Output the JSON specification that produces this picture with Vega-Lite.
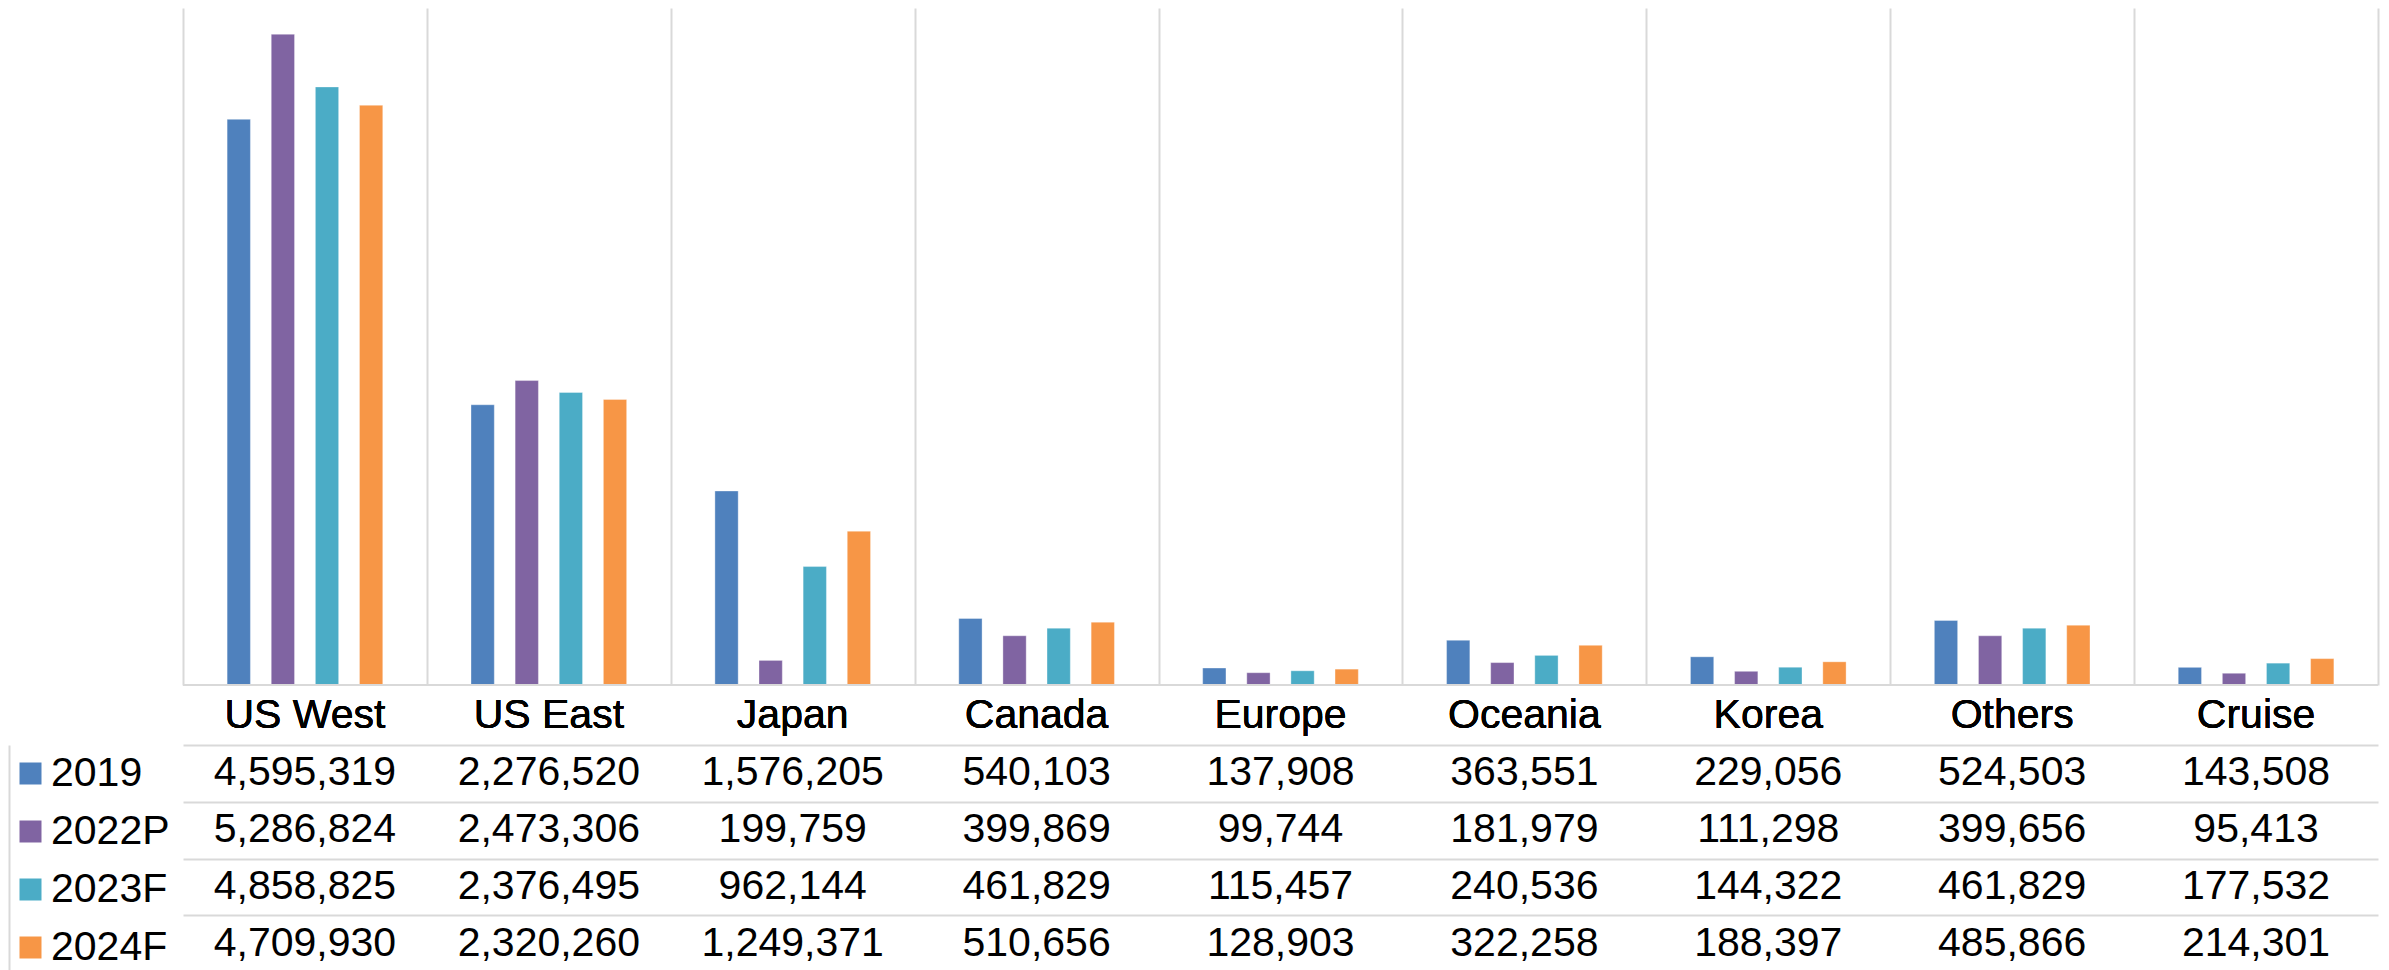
{
  "$schema": "https://vega.github.io/schema/vega-lite/v6.json",
  "width": 2369,
  "height": 962,
  "autosize": {"type": "none"},
  "padding": {"left": 9, "top": 8, "right": 11, "bottom": 0},
  "background": "white",
  "config": {"view": {"stroke": null}, "font": "Liberation Sans"},
  "data": {
    "values": [
      {"region": "US West", "year": "2019", "value": 4595319},
      {"region": "US East", "year": "2019", "value": 2276520},
      {"region": "Japan", "year": "2019", "value": 1576205},
      {"region": "Canada", "year": "2019", "value": 540103},
      {"region": "Europe", "year": "2019", "value": 137908},
      {"region": "Oceania", "year": "2019", "value": 363551},
      {"region": "Korea", "year": "2019", "value": 229056},
      {"region": "Others", "year": "2019", "value": 524503},
      {"region": "Cruise", "year": "2019", "value": 143508},
      {"region": "US West", "year": "2022P", "value": 5286824},
      {"region": "US East", "year": "2022P", "value": 2473306},
      {"region": "Japan", "year": "2022P", "value": 199759},
      {"region": "Canada", "year": "2022P", "value": 399869},
      {"region": "Europe", "year": "2022P", "value": 99744},
      {"region": "Oceania", "year": "2022P", "value": 181979},
      {"region": "Korea", "year": "2022P", "value": 111298},
      {"region": "Others", "year": "2022P", "value": 399656},
      {"region": "Cruise", "year": "2022P", "value": 95413},
      {"region": "US West", "year": "2023F", "value": 4858825},
      {"region": "US East", "year": "2023F", "value": 2376495},
      {"region": "Japan", "year": "2023F", "value": 962144},
      {"region": "Canada", "year": "2023F", "value": 461829},
      {"region": "Europe", "year": "2023F", "value": 115457},
      {"region": "Oceania", "year": "2023F", "value": 240536},
      {"region": "Korea", "year": "2023F", "value": 144322},
      {"region": "Others", "year": "2023F", "value": 461829},
      {"region": "Cruise", "year": "2023F", "value": 177532},
      {"region": "US West", "year": "2024F", "value": 4709930},
      {"region": "US East", "year": "2024F", "value": 2320260},
      {"region": "Japan", "year": "2024F", "value": 1249371},
      {"region": "Canada", "year": "2024F", "value": 510656},
      {"region": "Europe", "year": "2024F", "value": 128903},
      {"region": "Oceania", "year": "2024F", "value": 322258},
      {"region": "Korea", "year": "2024F", "value": 188397},
      {"region": "Others", "year": "2024F", "value": 485866},
      {"region": "Cruise", "year": "2024F", "value": 214301}
    ]
  },
  "encoding": {
    "x": {
      "field": "region", "type": "nominal",
      "sort": ["US West", "US East", "Japan", "Canada", "Europe", "Oceania", "Korea", "Others", "Cruise"],
      "scale": {"range": [174, 2369], "paddingInner": 0, "paddingOuter": 0},
      "axis": {
        "orient": "top", "title": null, "labels": false, "ticks": false, "domain": false,
        "grid": true, "gridColor": "#d9d9d9", "gridWidth": 2, "tickBand": "extent"
      }
    }
  },
  "layer": [
    {
      "layer": [
        {
          "mark": {"type": "bar", "strokeWidth": 1, "strokeOpacity": 0.35, "stroke": "white"},
          "encoding": {
            "xOffset": {
              "field": "year", "type": "nominal",
              "sort": ["2019", "2022P", "2023F", "2024F"],
              "scale": {"paddingInner": 0.472, "paddingOuter": 1.2}
            },
            "y": {
              "field": "value", "type": "quantitative",
              "scale": {"domain": [0, 5500000], "range": [677, 0]},
              "axis": null
            },
            "color": {
              "field": "year", "type": "nominal",
              "scale": {"domain": ["2019", "2022P", "2023F", "2024F"], "range": ["#4F81BD", "#8064A2", "#4BACC6", "#F79646"]},
              "legend": {
                "orient": "none", "legendX": 1, "legendY": 745, "title": null,
                "symbolType": "square", "symbolSize": 484, "symbolStrokeWidth": 0, "symbolOpacity": 1,
                "labelFontSize": 41, "labelColor": "black", "labelFont": "Liberation Sans",
                "labelOffset": 0, "rowPadding": 16, "padding": 0
              }
            }
          }
        },
        {
          "mark": {"type": "bar", "fill": null, "fillOpacity": 0, "stroke": "#d9d9d9", "strokeWidth": 2},
          "encoding": {
            "y": {"datum": 0},
            "y2": {"datum": 0}
          }
        },
        {
          "mark": {"type": "text", "fontSize": 41, "color": "black", "baseline": "middle", "dy": 31, "font": "Liberation Sans"},
          "encoding": {
            "y": {"datum": 0},
            "text": {"field": "region"}
          }
        }
      ]
    },
    {
      "mark": {"type": "text", "fontSize": 41, "color": "black", "baseline": "middle", "font": "Liberation Sans"},
      "encoding": {
        "y": {
          "field": "year", "type": "nominal",
          "sort": ["2019", "2022P", "2023F", "2024F"],
          "scale": {"range": [737, 964], "paddingInner": 0, "paddingOuter": 0},
          "axis": {
            "orient": "left", "title": null, "labels": false, "ticks": false,
            "domain": true, "domainColor": "#d9d9d9", "domainWidth": 2,
            "grid": true, "gridColor": "#d9d9d9", "gridWidth": 2, "tickBand": "extent"
          }
        },
        "text": {"field": "value", "type": "quantitative", "format": ","}
      }
    }
  ],
  "resolve": {"scale": {"y": "independent"}}
}
